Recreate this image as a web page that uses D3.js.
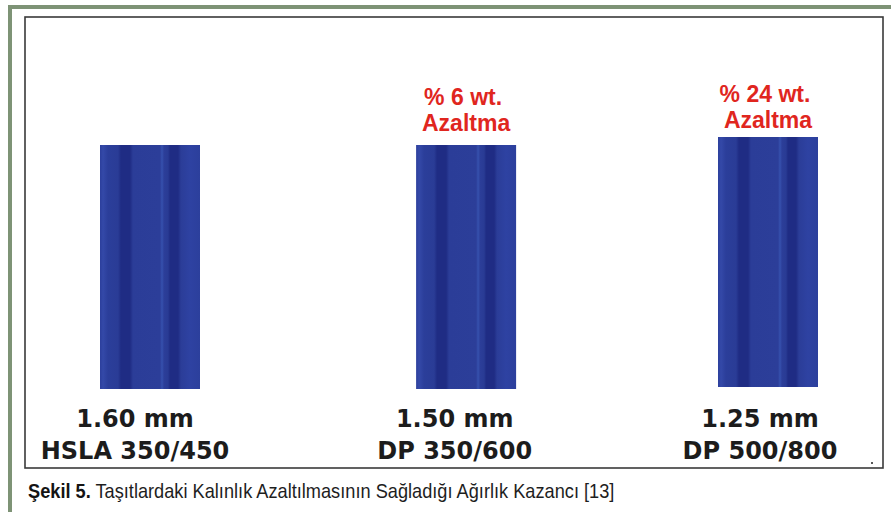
<!DOCTYPE html>
<html>
<head>
<meta charset="utf-8">
<script src="https://cdn.jsdelivr.net/npm/d3@7"></script>
<style>
  html, body { margin: 0; padding: 0; background: #ffffff; }
  svg { display: block; }
</style>
</head>
<body>
<svg id="chart" width="891" height="512"></svg>
<script>
// ---- data ----
const categories = ["HSLA 350/450", "DP 350/600", "DP 500/800"];
const thicknessLabels = ["1.60 mm", "1.50 mm", "1.25 mm"];
const reductionPct = ["", "% 6 wt.", "% 24 wt."];
const reductionWord = ["", "Azaltma", "Azaltma"];
const slot = [0, 1.023, 2];           // horizontal slot of each sample
const barBase = [0.4, 0.4, 1.2];      // illustration units
const barTop = [98, 98, 101.2];       // illustration units
const captionBold = "Şekil 5.";
const captionText = " Taşıtlardaki Kalınlık Azaltılmasının Sağladığı Ağırlık Kazancı [13]";

// ---- layout ----
const svg = d3.select("#chart");
const x = d3.scaleLinear().domain([0, 2]).range([150, 768]);
const xLabel = d3.scaleLinear().domain([0, 2]).range([135, 760]);
const y = d3.scaleLinear().domain([0, 100]).range([390, 140]);
const barW = 100;

// gradient for bar profile
const defs = svg.append("defs");
const grad = defs.append("linearGradient").attr("id", "barGrad")
  .attr("x1", "0%").attr("x2", "100%").attr("y1", "0%").attr("y2", "0%");
[
  [0, "#2c3f9c"], [0.03, "#3449a8"], [0.08, "#2b3e9a"],
  [0.18, "#2a3c96"], [0.21, "#1f2c84"], [0.30, "#1f2c84"], [0.33, "#2b3d98"],
  [0.60, "#2c3e99"], [0.62, "#3651ae"], [0.64, "#2c3e99"],
  [0.68, "#293b94"], [0.70, "#1f2c84"], [0.78, "#1f2c84"], [0.81, "#2b3d98"],
  [0.90, "#2e42a2"], [1, "#2c3f9c"]
].forEach(([o, c]) => grad.append("stop").attr("offset", o).attr("stop-color", c));

// outer green frame
svg.append("rect").attr("x", 8).attr("y", 5).attr("width", 883).attr("height", 4).attr("fill", "#7e9376");
svg.append("rect").attr("x", 8).attr("y", 5).attr("width", 4).attr("height", 507).attr("fill", "#7e9376");

// inner panel frame
svg.append("rect").attr("x", 25).attr("y", 17).attr("width", 858).attr("height", 451)
  .attr("fill", "#ffffff").attr("stroke", "#3a3a3a").attr("stroke-width", 1.6);

// bars
svg.selectAll("rect.bar").data(categories).join("rect")
  .attr("class", "bar")
  .attr("x", (d, i) => x(slot[i]) - barW / 2)
  .attr("width", barW)
  .attr("y", (d, i) => y(barTop[i]))
  .attr("height", (d, i) => y(barBase[i]) - y(barTop[i]))
  .attr("fill", "url(#barGrad)");

// reduction labels (red)
const red = "#e0261e";
svg.selectAll("text.pct").data(categories).join("text")
  .attr("class", "pct")
  .attr("x", (d, i) => x(slot[i]) - 3)
  .attr("y", (d, i) => y(barTop[i]) - 40 + (barTop[i] - 98) * 1.5)
  .attr("text-anchor", "middle")
  .attr("font-family", "'Liberation Sans', Arial, sans-serif")
  .attr("font-weight", "bold").attr("font-size", 23).attr("fill", red)
  .text((d, i) => reductionPct[i]);
svg.selectAll("text.word").data(categories).join("text")
  .attr("class", "word")
  .attr("x", (d, i) => x(slot[i]))
  .attr("y", (d, i) => y(barTop[i]) - 14 + (barTop[i] - 98) * 1.5)
  .attr("text-anchor", "middle")
  .attr("font-family", "'Liberation Sans', Arial, sans-serif")
  .attr("font-weight", "bold").attr("font-size", 23).attr("fill", red)
  .text((d, i) => reductionWord[i]);

// thickness + material labels
svg.selectAll("text.thk").data(categories).join("text")
  .attr("class", "thk")
  .attr("x", (d, i) => xLabel(slot[i]))
  .attr("y", 427)
  .attr("text-anchor", "middle")
  .attr("font-family", "'DejaVu Sans', Verdana, sans-serif")
  .attr("font-weight", "bold").attr("font-size", 24).attr("fill", "#1c1c1c")
  .text((d, i) => thicknessLabels[i]);
svg.selectAll("text.cat").data(categories).join("text")
  .attr("class", "cat")
  .attr("x", (d, i) => xLabel(slot[i]))
  .attr("y", 459)
  .attr("text-anchor", "middle")
  .attr("font-family", "'DejaVu Sans', Verdana, sans-serif")
  .attr("font-weight", "bold").attr("font-size", 24).attr("fill", "#1c1c1c")
  .text(d => d);

// small dot near bottom right corner
svg.append("circle").attr("cx", 872).attr("cy", 463).attr("r", 1).attr("fill", "#222");

// caption
const cap = svg.append("text")
  .attr("font-family", "'Liberation Sans Narrow', 'Liberation Sans', Arial, sans-serif")
  .attr("font-size", 20).attr("fill", "#1e1e1e");
cap.append("tspan").attr("font-weight", "bold").attr("fill", "#141414").text(captionBold);
cap.append("tspan").text(captionText);
const targetW = 587;
const w = cap.node().getComputedTextLength();
cap.attr("transform", `translate(28,498) scale(${targetW / w},1)`);
</script>
</body>
</html>
